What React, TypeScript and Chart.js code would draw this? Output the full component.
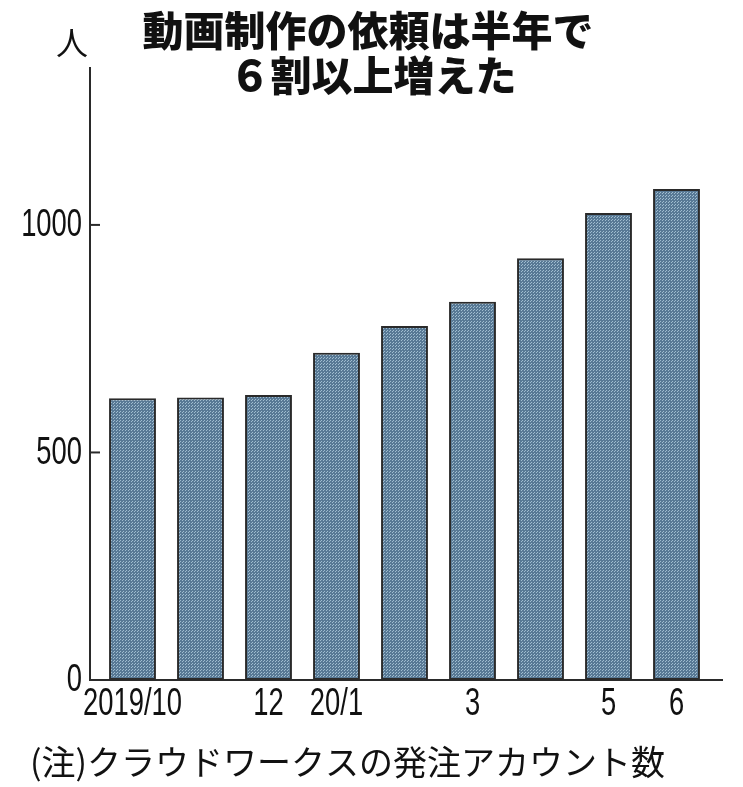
import React, { useEffect, useRef } from "react";
import { Chart, registerables } from "chart.js";

Chart.register(...registerables);

const categories = ["2019/10", "11", "12", "20/1", "2", "3", "4", "5", "6"];
const tickLabels = ["2019/10", "", "12", "20/1", "", "3", "", "5", "6"];
const values = [619, 621, 626, 719, 778, 831, 927, 1026, 1079];
const yTicks = [0, 500, 1000];
const titleLines = ["動画制作の依頼は半年で", "６割以上増えた"];
const unitLabel = "人";
const footnote = "(注)クラウドワークスの発注アカウント数";

function makePattern(ctx: CanvasRenderingContext2D) {
  const c = document.createElement("canvas");
  c.width = 3;
  c.height = 3;
  const p = c.getContext("2d")!;
  p.fillStyle = "#587995";
  p.fillRect(0, 0, 3, 3);
  p.fillStyle = "#a0bdd0";
  p.fillRect(0, 0, 1, 1);
  p.fillRect(2, 1, 1, 1);
  return ctx.createPattern(c, "repeat")!;
}

export default function App() {
  const ref = useRef<HTMLCanvasElement>(null);

  useEffect(() => {
    const canvas = ref.current!;
    const ctx = canvas.getContext("2d")!;
    const pattern = makePattern(ctx);
    const numFont = '"Liberation Sans", Arial, sans-serif';
    const jpFont = '"Noto Sans CJK JP", sans-serif';

    const decor = {
      id: "decor",
      afterDatasetsDraw(chart: any) {
        const c = chart.ctx as CanvasRenderingContext2D;
        const area = chart.chartArea;
        const xs = chart.scales.x;
        const ys = chart.scales.y;
        const axisX = area.left - 8.5;
        const axisRight = area.right + 12.5;
        const zeroY = ys.getPixelForValue(0);
        c.save();
        c.strokeStyle = "#2a2a2a";
        c.lineWidth = 2;
        c.beginPath();
        c.moveTo(axisX, area.top);
        c.lineTo(axisX, zeroY);
        c.moveTo(axisX - 1, zeroY);
        c.lineTo(axisRight, zeroY);
        c.stroke();
        yTicks.forEach((t) => {
          if (t === 0) return;
          const py = ys.getPixelForValue(t);
          c.beginPath();
          c.moveTo(axisX, py);
          c.lineTo(axisX + 10, py);
          c.stroke();
        });
        c.fillStyle = "#111";
        c.font = `38px ${numFont}`;
        c.textAlign = "right";
        c.textBaseline = "middle";
        yTicks.forEach((t) => {
          const py = ys.getPixelForValue(t);
          c.save();
          c.translate(axisX - 8, py + 1);
          c.scale(0.72, 1);
          c.fillText(String(t), 0, 0);
          c.restore();
        });
        c.textAlign = "center";
        c.textBaseline = "middle";
        tickLabels.forEach((lab, i) => {
          if (!lab) return;
          const px = xs.getPixelForValue(i);
          c.save();
          c.translate(px, zeroY + 25);
          c.scale(0.72, 1);
          c.fillText(lab, 0, 0);
          c.restore();
        });
        c.font = `32px ${jpFont}`;
        c.textAlign = "center";
        c.fillText(unitLabel, 72, 43);
        c.font = `900 41px ${jpFont}`;
        c.fillText(titleLines[0], 368, 30);
        c.fillText(titleLines[1], 373, 75);
        c.font = `34px ${jpFont}`;
        c.textAlign = "left";
        c.fillText(footnote, 30, 762);
        c.restore();
      },
    };

    const chart = new Chart(canvas, {
      type: "bar",
      data: {
        labels: categories,
        datasets: [
          {
            data: values,
            backgroundColor: pattern,
            borderColor: "#2a2a2a",
            borderWidth: 2,
            borderSkipped: false,
            categoryPercentage: 1,
            barPercentage: 0.69,
          },
        ],
      },
      options: {
        responsive: false,
        animation: false,
        layout: { padding: { left: 98.5, right: 32.5, top: 67, bottom: 107 } },
        plugins: {
          legend: { display: false },
          title: { display: false },
          tooltip: { enabled: false },
        },
        scales: {
          x: { display: false, offset: true },
          y: { display: false, min: 0, max: 1347 },
        },
      },
      plugins: [decor],
    });
    return () => chart.destroy();
  }, []);

  return (
    <div style={{ position: "fixed", left: 0, top: 0, width: 743, height: 787, background: "#fff" }}>
      <canvas ref={ref} width={743} height={787} style={{ display: "block" }} />
    </div>
  );
}
